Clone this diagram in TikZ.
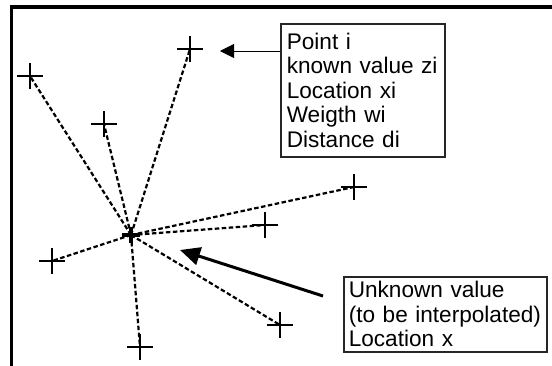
\documentclass[tikz,border=0pt]{standalone}
\usepackage{fontspec}
\setmainfont{Liberation Sans}
\usetikzlibrary{arrows.meta, positioning, calc}

\tikzset{
    ray/.style={line width=2.2pt, dash pattern=on 4.5pt off 2.5pt},
    infobox/.style={draw=black!85, line width=1.6pt, anchor=north west, align=left,
        inner xsep=6pt, inner ysep=3pt, font=\fontsize{22.6}{24.5}\selectfont},
}

\begin{document}
\begin{tikzpicture}[x=1pt, y=-1pt]
    \useasboundingbox (0,0) rectangle (552,365);
    % Frame
    \draw[line width=3.2pt] (11.5,370) -- (11.5,7) -- (560,7);

    % Known points
    \coordinate (x0) at (131,235);
    \coordinate (p1) at (190,49);
    \coordinate (p2) at (30,76);
    \coordinate (p3) at (104,124);
    \coordinate (p4) at (354,187);
    \coordinate (p5) at (265,225);
    \coordinate (p6) at (52,261);
    \coordinate (p7) at (280,325);
    \coordinate (p8) at (140,347);

    \foreach \p in {p1,p2,p3,p4,p5,p6,p7,p8} {
        \draw[ray] (x0) -- (\p);
        \draw[line width=2.4pt] ($(\p)+(-13,0)$) -- ($(\p)+(13,0)$)
                                ($(\p)+(0,-13)$) -- ($(\p)+(0,13)$);
    }
    % Unknown point
    \draw[line width=3.2pt] ($(x0)+(-9,0)$) -- ($(x0)+(9,0)$)
                            ($(x0)+(0,-8)$) -- ($(x0)+(0,8)$);

    % Labels
    \node[infobox, text width=152pt, minimum height=133pt] (known) at (280,23)
        {Point i\\known value zi\\Location xi\\Weigth wi\\Distance di};
    \node[infobox, inner xsep=5pt, text width=193pt, minimum height=75pt] (unknown) at (343,276)
        {Unknown value\\(to be interpolated)\\Location x};

    % Pointers
    \coordinate (tipknown) at (220,51);
    \coordinate (tipunknown) at (180,250);
    \coordinate (tailunknown) at (323,296);
    \draw[line width=0.9pt, -{Triangle[length=14pt, width=14pt]}] (known.west |- tipknown) -- (tipknown);
    \draw[line width=3pt, -{Triangle[length=20pt, width=18pt]}] (tailunknown) -- (tipunknown);
\end{tikzpicture}
\end{document}
